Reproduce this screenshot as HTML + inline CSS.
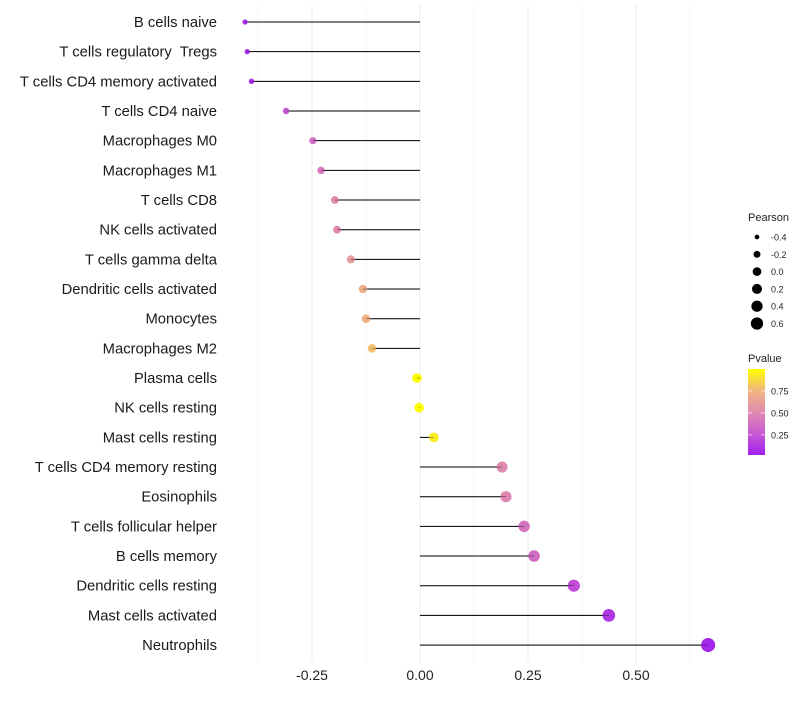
<!DOCTYPE html>
<html><head><meta charset="utf-8"><style>
body{margin:0;background:#fff;font-family:"Liberation Sans",sans-serif}
text{white-space:pre}
</style></head><body>
<svg id="c" width="800" height="700" xmlns="http://www.w3.org/2000/svg"></svg>
<script>
const categories=["B cells naive","T cells regulatory  Tregs","T cells CD4 memory activated","T cells CD4 naive","Macrophages M0","Macrophages M1","T cells CD8","NK cells activated","T cells gamma delta","Dendritic cells activated","Monocytes","Macrophages M2","Plasma cells","NK cells resting","Mast cells resting","T cells CD4 memory resting","Eosinophils","T cells follicular helper","B cells memory","Dendritic cells resting","Mast cells activated","Neutrophils"];
const pearson=[-0.405,-0.40,-0.39,-0.31,-0.248,-0.229,-0.197,-0.192,-0.16,-0.132,-0.125,-0.111,-0.007,-0.002,0.032,0.19,0.199,0.241,0.264,0.356,0.437,0.667];
const pvalue=[0.05,0.05,0.06,0.25,0.35,0.4,0.5,0.5,0.6,0.7,0.72,0.78,0.99,0.99,0.93,0.5,0.48,0.38,0.34,0.2,0.1,0.03];
const xTicks=[-0.25,0,0.25,0.5];
const xTickLabels=["-0.25","0.00","0.25","0.50"];
const sizeLegend=[-0.4,-0.2,0,0.2,0.4,0.6];
const colorLegend=[0.25,0.5,0.75];
const NS="http://www.w3.org/2000/svg",svg=document.getElementById('c');
const X=v=>420+v*432, Y=i=>22+i*29.67, R=v=>Math.sqrt(Math.max(4,23+40*v));
function mk(t,a,p){const e=document.createElementNS(NS,t);for(const k in a)e.setAttribute(k,a[k]);(p||svg).appendChild(e);return e;}
const stops=[[0,[160,32,240]],[0.25,[200,90,210]],[0.5,[224,140,176]],[0.75,[242,182,128]],[1,[255,255,0]]];
function col(p){for(let i=1;i<stops.length;i++){if(p<=stops[i][0]){const [a,ca]=stops[i-1],[b,cb]=stops[i];const t=(p-a)/(b-a);return 'rgb('+ca.map((c,j)=>Math.round(c+(cb[j]-c)*t)).join(',')+')';}}return 'rgb(255,255,0)';}
for(let v=-0.375;v<=0.7;v+=0.125){const g=mk('line',{x1:X(v),x2:X(v),y1:5,y2:662,stroke:Math.abs((v*4)%1)<1e-6?'#ebebeb':'#f4f4f4','stroke-width':1});
}
xTicks.forEach((v,i)=>{const t=mk('text',{x:X(v),y:680,'text-anchor':'middle','font-size':14,fill:'#222'});t.textContent=xTickLabels[i];
});
categories.forEach((c,i)=>{
const y=Y(i);
const l=mk('text',{x:217,y:y+5,'text-anchor':'end','font-size':14.8,fill:'#1a1a1a'});l.textContent=c;

const s=mk('line',{x1:X(0),x2:X(pearson[i]),y1:y,y2:y,stroke:'#000','stroke-width':1});

const d=mk('circle',{cx:X(pearson[i]),cy:y,r:R(pearson[i]),fill:col(pvalue[i])});

const s2=mk('line',{x1:X(0),x2:X(pearson[i]),y1:y,y2:y,stroke:'#000','stroke-width':0.6,'stroke-opacity':0.6});

});
let t=mk('text',{x:748,y:221,'font-size':11,fill:'#222'});t.textContent='Pearson';

sizeLegend.forEach((v,i)=>{const y=237+i*17.3;
const c=mk('circle',{cx:757,cy:y,r:R(v)*0.9,fill:'#000'});
const tt=mk('text',{x:771,y:y+3.5,'font-size':9,fill:'#222'});tt.textContent=v.toFixed(1);});
t=mk('text',{x:748,y:362,'font-size':11,fill:'#222'});t.textContent='Pvalue';

const defs=mk('defs',{});const lg=mk('linearGradient',{id:'g',x1:0,y1:1,x2:0,y2:0},defs);
stops.forEach(s=>mk('stop',{offset:s[0],'stop-color':col(s[0])},lg));
const bar=mk('rect',{x:748,y:369,width:17,height:86,fill:'url(#g)'});
const PY=p=>455-(p-0.02)/0.98*86;
colorLegend.forEach(p=>{const y=PY(p);
mk('line',{x1:748,x2:752,y1:y,y2:y,stroke:'#fff','stroke-opacity':0.6});mk('line',{x1:761,x2:765,y1:y,y2:y,stroke:'#fff','stroke-opacity':0.6});
const tt=mk('text',{x:771,y:y+3.5,'font-size':9,fill:'#222'});tt.textContent=p.toFixed(2);});
</script>
</body></html>
